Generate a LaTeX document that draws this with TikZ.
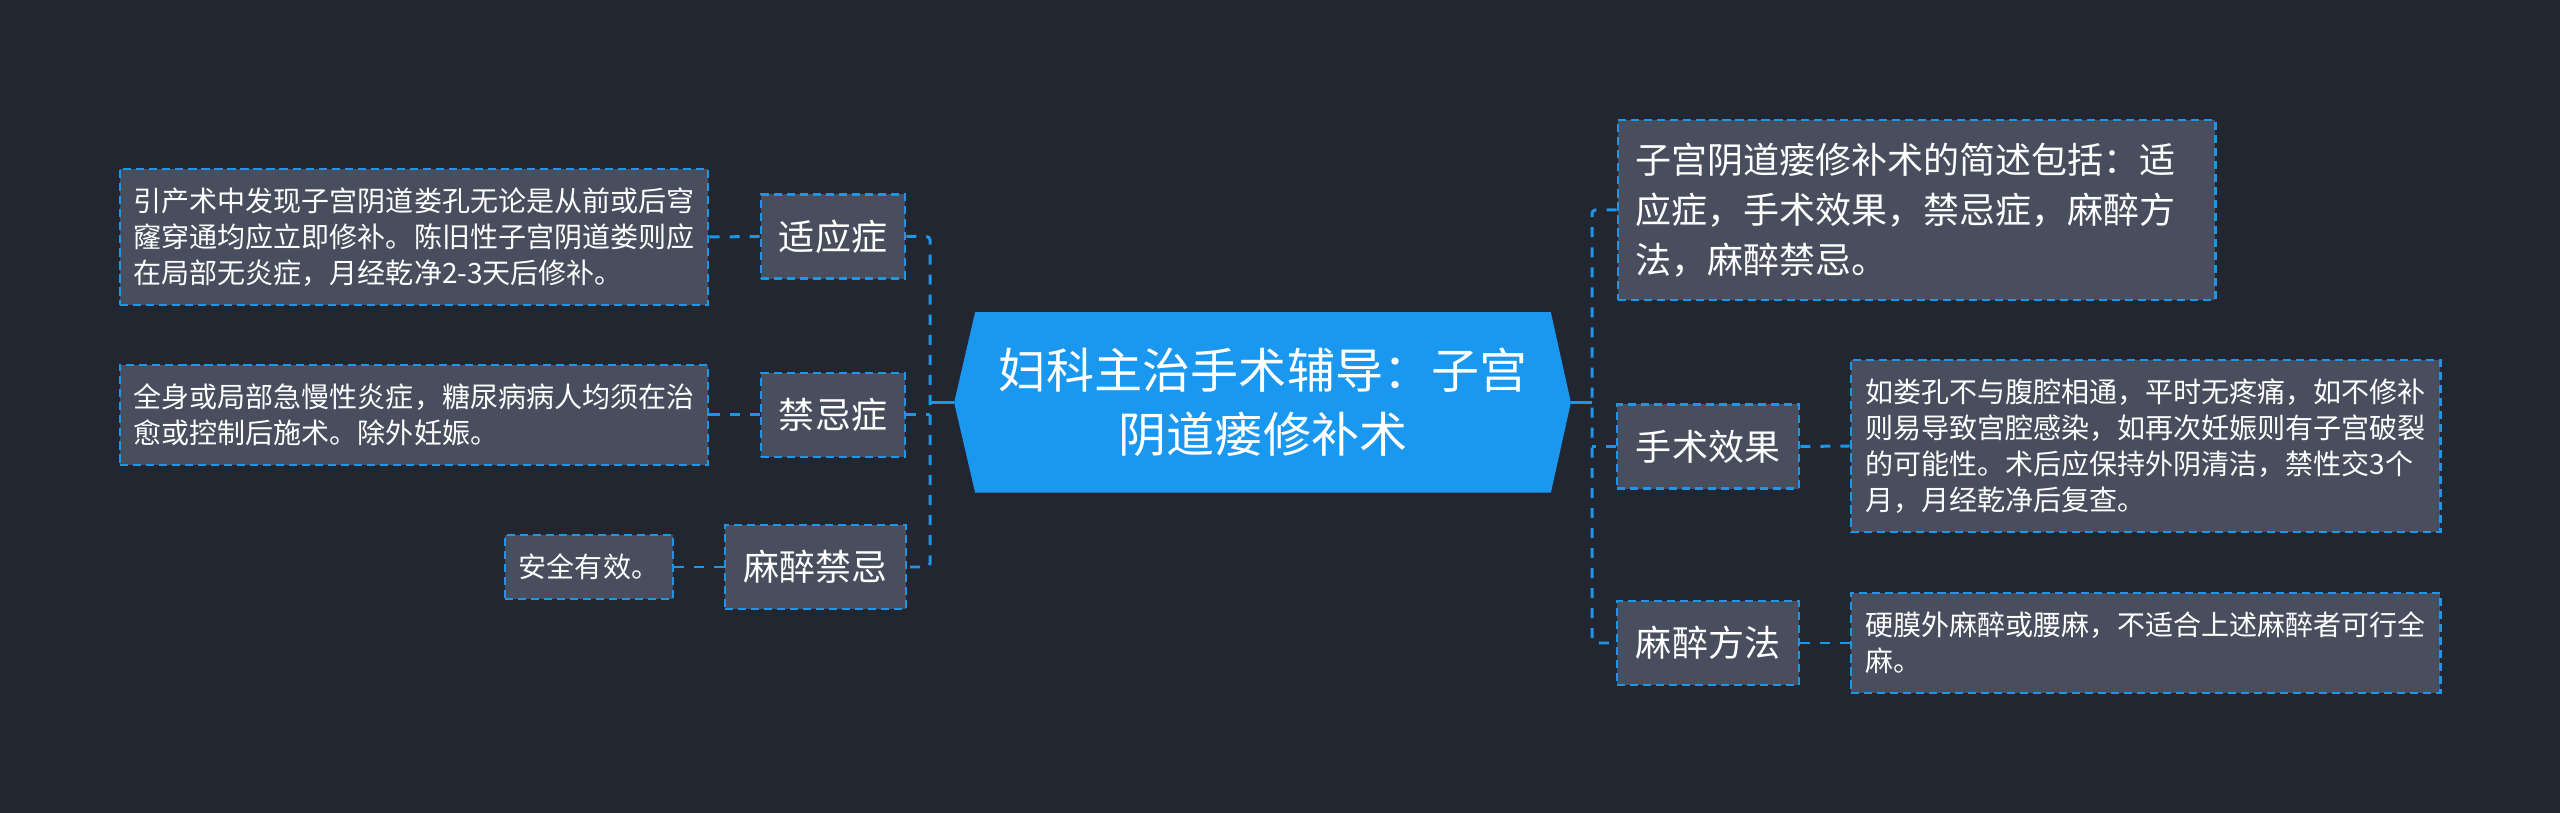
\documentclass[tikz,border=0pt]{standalone}
\usepackage{fontspec}
\usepackage{tikz}
\usetikzlibrary{calc,backgrounds}
\newfontfamily\cjk{Noto Sans CJK SC}
\definecolor{mmbg}{RGB}{34,38,49}
\definecolor{mmgray}{RGB}{72,78,93}
\definecolor{mmblue}{RGB}{30,150,232}
\definecolor{mmroot}{RGB}{26,151,238}
\tikzset{
  mmcenter/.style={
    rectangle, fill=none, draw=none, text=white, align=center,
    minimum width=5.74cm, minimum height=1.79cm, inner sep=0pt,
    font=\cjk\fontsize{13.66pt}{18.2pt}\selectfont
  },
  mmtopic/.style={
    rectangle, draw=mmblue, fill=mmgray, text=white,
    line width=0.75pt, dash pattern=on 2.3pt off 1.4pt,
    minimum height=0.84cm, inner sep=0pt, align=center,
    font=\cjk\fontsize{10.24pt}{14.2pt}\selectfont
  },
  mmnote/.style={
    rectangle, draw=mmblue, fill=mmgray, text=white,
    line width=0.75pt, dash pattern=on 2.3pt off 1.4pt,
    inner sep=0pt, align=left,
    font=\cjk\fontsize{7.97pt}{10.24pt}\selectfont
  },
  mmlink/.style={draw=mmblue, line width=0.85pt},
  mmdash/.style={draw=mmblue, line width=0.85pt,
    dash pattern=on 2.85pt off 2.85pt, rounded corners=1pt}
}
\begin{document}
\begin{tikzpicture}[x=0.01cm, y=-0.01cm]
  \useasboundingbox (0,0) rectangle (2560,813);

  % Root
  \node[mmcenter] (root) at (1263,402.5)
    {妇科主治手术辅导：子宫\\阴道瘘修补术};
  \coordinate (rootw) at ($(root.west)+(-21,0)$);
  \coordinate (roote) at ($(root.east)+(20,0)$);

  % Left branches
  \node[mmtopic, minimum width=1.44cm] (sym)    at (833,236.5) {适应症};
  \node[mmtopic, minimum width=1.44cm] (contra) at (833,415)   {禁忌症};
  \node[mmtopic, minimum width=1.81cm] (anrisk) at (815.5,567) {麻醉禁忌};

  \node[mmnote, minimum width=5.88cm, minimum height=1.36cm] (symnote) at (414,237)
    {引产术中发现子宫阴道娄孔无论是从前或后穹\\窿穿通均应立即修补。陈旧性子宫阴道娄则应\\在局部无炎症，月经乾净2-3天后修补。};
  \node[mmnote, minimum width=5.88cm, minimum height=1.0cm] (contranote) at (414,415)
    {全身或局部急慢性炎症，糖尿病病人均须在治\\愈或控制后施术。除外妊娠。};
  \node[mmnote, minimum width=1.68cm, minimum height=0.64cm] (anrisknote) at (589,567)
    {安全有效。};

  % Right branches
  \node[mmnote, minimum width=5.97cm, minimum height=1.8cm, text width=5.61cm,
        font=\cjk\fontsize{10.24pt}{14.2pt}\selectfont] (summary) at (1916.5,210)
    {子宫阴道瘘修补术的简述包括：适\\应症，手术效果，禁忌症，麻醉方\\法，麻醉禁忌。};
  \node[mmtopic, minimum width=1.82cm] (effect)   at (1708,446.5) {手术效果};
  \node[mmtopic, minimum width=1.82cm] (anmethod) at (1708,643)   {麻醉方法};

  \node[mmnote, minimum width=5.89cm, minimum height=1.72cm] (effectnote) at (2145.5,446)
    {如娄孔不与腹腔相通，平时无疼痛，如不修补\\则易导致宫腔感染，如再次妊娠则有子宫破裂\\的可能性。术后应保持外阴清洁，禁性交3个\\月，月经乾净后复查。};
  \node[mmnote, minimum width=5.89cm, minimum height=1.0cm] (anmethodnote) at (2145.5,643)
    {硬膜外麻醉或腰麻，不适合上述麻醉者可行全\\麻。};

  % Buses
  \coordinate (lbus) at (930,402.5);
  \coordinate (rbus) at (1592,402.5);

  % Left connectors
  \draw[mmlink] (rootw) -- (lbus);
  \draw[mmdash] (sym.east) -- (sym.east -| lbus) -- (anrisk.east -| lbus) -- (anrisk.east);
  \draw[mmdash] (contra.east) -- (contra.east -| lbus);
  \draw[mmdash] (symnote.east) -- (sym.west);
  \draw[mmdash] (contranote.east) -- (contra.west);
  \draw[mmdash] (anrisknote.east) -- (anrisk.west);

  % Right connectors
  \draw[mmlink] (roote) -- (rbus);
  \draw[mmdash] (summary.west) -- (summary.west -| rbus) -- (anmethod.west -| rbus) -- (anmethod.west);
  \draw[mmdash] (effect.west) -- (effect.west -| rbus);
  \draw[mmdash] (effect.east) -- (effectnote.west);
  \draw[mmdash] (anmethod.east) -- (anmethodnote.west);

  % Background and root shape
  \begin{scope}[on background layer]
    \fill[mmbg] (0,0) rectangle (2560,813);
    \fill[mmroot] (root.north west) -- (root.north east) -- (roote)
      -- (root.south east) -- (root.south west) -- (rootw) -- cycle;
  \end{scope}
\end{tikzpicture}
\end{document}
